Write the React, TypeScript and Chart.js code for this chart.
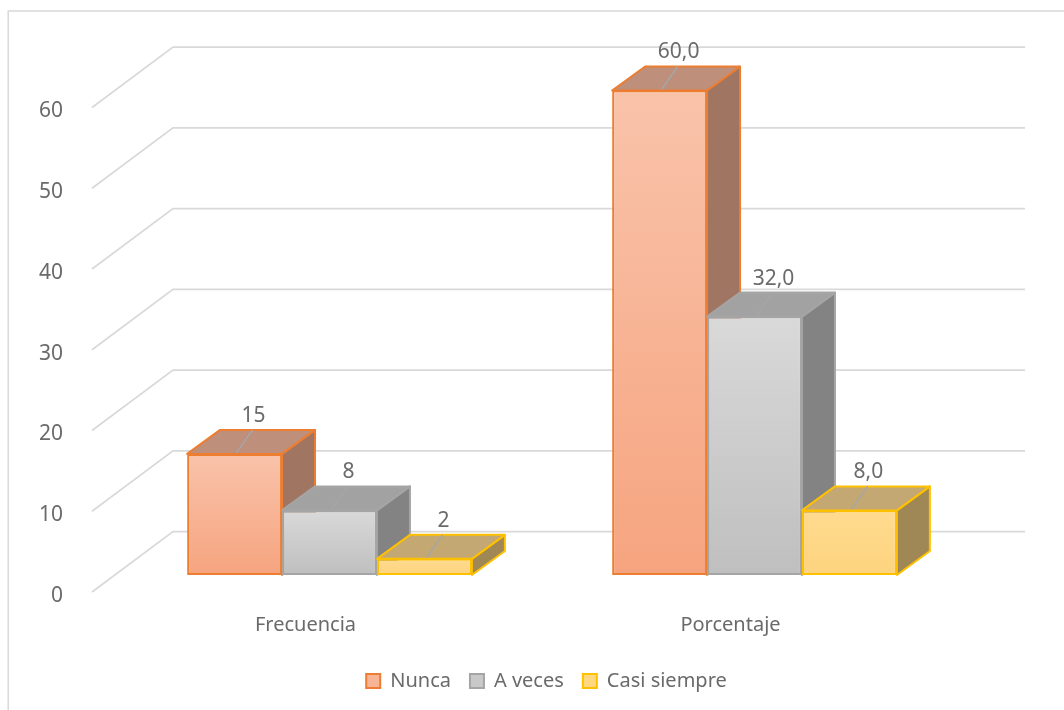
import React, { useEffect, useRef } from "react";
import { Chart, registerables } from "chart.js";

Chart.register(...registerables);

// ---- data ----
const categories = ["Frecuencia", "Porcentaje"];
const seriesNames = ["Nunca", "A veces", "Casi siempre"];
const nunca = [15, 60];
const aVeces = [8, 32];
const casiSiempre = [2, 8];
const labelDecimals = [0, 1]; // per category
const yTicks = [0, 10, 20, 30, 40, 50, 60];

// ---- styles ----
const FONT = "'Noto Sans', 'Open Sans', sans-serif";
const TEXT = "#6a6a6a";
const GRID = "#D9D9D9";
const styles = [
  { top: "#F9C3AA", bottom: "#F6A47F", border: "#ED7D31", lid: "#BE8F7A", side: "#A07662", legend: "#F8B596" },
  { top: "#D9D9D9", bottom: "#BFBFBF", border: "#A5A5A5", lid: "#A2A2A2", side: "#838383", legend: "#C9C9C9" },
  { top: "#FFDB90", bottom: "#FDD37E", border: "#FFC000", lid: "#C4A874", side: "#A08856", legend: "#FFD880" },
];
const DX = 33;
const DY = -24;

const threeD = {
  id: "threeD",
  beforeDraw(chart: any) {
    const ctx = chart.ctx;
    ctx.save();
    ctx.strokeStyle = GRID;
    ctx.lineWidth = 1.5;
    ctx.strokeRect(8.2, 11, 1200, 900);
    ctx.restore();
  },
  beforeDatasetsDraw(chart: any) {
    const ctx = chart.ctx;
    const ca = chart.chartArea;
    const y = chart.scales.y;
    ctx.save();
    ctx.strokeStyle = GRID;
    ctx.lineWidth = 1.75;
    ctx.lineJoin = "miter";
    for (const v of yTicks) {
      const p = y.getPixelForValue(v);
      ctx.beginPath();
      ctx.moveTo(ca.left - 25, p + 17);
      ctx.lineTo(ca.left + 56, p - 43.5);
      ctx.lineTo(ca.right + 58, p - 43.5);
      ctx.stroke();
    }
    ctx.restore();
  },
  beforeDatasetDraw() {
    return false;
  },
  afterDatasetsDraw(chart: any) {
    const ctx = chart.ctx;
    const items: any[] = [];
    chart.data.datasets.forEach((_: any, d: number) => {
      const meta = chart.getDatasetMeta(d);
      meta.data.forEach((el: any, i: number) => items.push({ el, d, i }));
    });
    items.sort((a, b) => a.el.x - b.el.x);
    ctx.save();
    for (const { el, d } of items) {
      const { x, y, base, width } = el.getProps(["x", "y", "base", "width"], true);
      const l = x - width / 2;
      const r = x + width / 2;
      const st = styles[d];
      ctx.lineWidth = 2;
      ctx.lineJoin = "round";
      ctx.strokeStyle = st.border;
      // side
      ctx.beginPath();
      ctx.moveTo(r, y);
      ctx.lineTo(r + DX, y + DY);
      ctx.lineTo(r + DX, base + DY);
      ctx.lineTo(r, base);
      ctx.closePath();
      ctx.fillStyle = st.side;
      ctx.fill();
      ctx.stroke();
      // top
      ctx.beginPath();
      ctx.moveTo(l, y);
      ctx.lineTo(r, y);
      ctx.lineTo(r + DX, y + DY);
      ctx.lineTo(l + DX, y + DY);
      ctx.closePath();
      ctx.fillStyle = st.lid;
      ctx.fill();
      ctx.stroke();
      // front
      el.draw(ctx, chart.chartArea);
    }
    // labels
    ctx.font = `21px ${FONT}`;
    ctx.textAlign = "center";
    ctx.textBaseline = "middle";
    for (const { el, d, i } of items) {
      const { x, y } = el.getProps(["x", "y"], true);
      const v = chart.data.datasets[d].data[i] as number;
      const txt = v.toFixed(labelDecimals[i]).replace(".", ",");
      ctx.strokeStyle = "#A6A6A6";
      ctx.lineWidth = 1.5;
      ctx.beginPath();
      ctx.moveTo(x + 2, y - 1);
      ctx.lineTo(x + 18, y - 24);
      ctx.stroke();
      ctx.fillStyle = TEXT;
      ctx.fillText(txt, x + 19, y - 38);
    }
    ctx.restore();
  },
};

export default function App() {
  const ref = useRef<HTMLCanvasElement | null>(null);
  useEffect(() => {
    if (!ref.current) return;
    const seriesData = [nunca, aVeces, casiSiempre];
    const chart = new Chart(ref.current, {
      type: "bar",
      data: {
        labels: categories,
        datasets: seriesNames.map((name, d) => ({
          label: name,
          data: seriesData[d],
          borderColor: styles[d].border,
          borderWidth: 2,
          borderSkipped: false,
          backgroundColor: (c: any) => {
            const ch = c.chart;
            const st = styles[d];
            if (!ch.chartArea || c.raw === undefined) return st.bottom;
            const ys = ch.scales.y;
            const t = ys.getPixelForValue(c.raw);
            const b = ys.getPixelForValue(0);
            if (!isFinite(t) || !isFinite(b) || t === b) return st.bottom;
            const g = ch.ctx.createLinearGradient(0, t, 0, b);
            g.addColorStop(0, st.top);
            g.addColorStop(1, st.bottom);
            return g;
          },
          categoryPercentage: 0.67,
          barPercentage: 1,
        })),
      },
      options: {
        responsive: false,
        animation: false,
        devicePixelRatio: 1,
        layout: { padding: { top: 90.5, left: 29, right: 0, bottom: 9 } },
        scales: {
          x: {
            grid: { display: false },
            border: { display: false },
            ticks: { padding: 30, labelOffset: -24, color: TEXT, font: { family: FONT, size: 20 } },
            afterFit: (s: any) => {
              s.height = 77;
            },
          },
          y: {
            min: 0,
            max: 60,
            grid: { display: false },
            border: { display: false },
            ticks: { stepSize: 10, padding: 46, labelOffset: 21, color: TEXT, font: { family: FONT, size: 21 } },
            afterFit: (s: any) => {
              s.width = 88;
            },
          },
          yr: {
            position: "right",
            display: true,
            grid: { display: false },
            border: { display: false },
            ticks: { display: false },
            afterFit: (s: any) => {
              s.width = 97;
            },
          },
        },
        plugins: {
          tooltip: { enabled: false },
          legend: {
            position: "bottom",
            labels: {
              color: TEXT,
              font: { family: FONT, size: 20 },
              boxWidth: 14,
              boxHeight: 14,
              padding: 19,
              generateLabels: () =>
                seriesNames.map((n, d) => ({
                  text: n,
                  fillStyle: styles[d].legend,
                  strokeStyle: styles[d].border,
                  lineWidth: 2,
                  hidden: false,
                  datasetIndex: d,
                  fontColor: TEXT,
                })),
            },
          },
        },
      },
      plugins: [threeD],
    } as any);
    return () => chart.destroy();
  }, []);
  return (
    <div style={{ position: "fixed", left: 0, top: 0, width: 1064, height: 710, background: "#fff" }}>
      <canvas ref={ref} width={1064} height={710} />
    </div>
  );
}
